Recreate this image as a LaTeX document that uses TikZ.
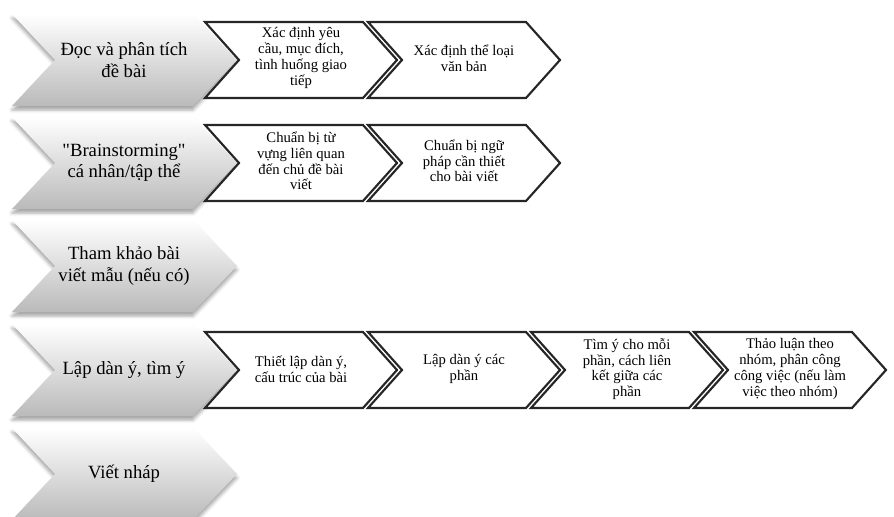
\documentclass[tikz,border=0pt]{standalone}
\usepackage{fontspec}
\setmainfont{Liberation Serif}[Ligatures=TeXOff]
\usetikzlibrary{shadows.blur}
\tikzset{
  bigchev/.style={top color=white, bottom color=black!27, draw=none,
    blur shadow={shadow xshift=0pt, shadow yshift=-3pt, shadow blur radius=2.5pt, shadow opacity=35}},
  smallchev/.style={draw=black!85, line width=1.6pt, fill=white, line join=miter},
  bigtext/.style={align=center, inner sep=0pt, font=\fontsize{14}{16}\selectfont},
  smalltext/.style={align=center, inner sep=0pt, font=\fontsize{11}{11.8}\selectfont},
}
\newcommand\bigchevron[1]{%
  \path[bigchev] (12,#1-46) -- (193,#1-46) -- (237,#1) -- (193,#1+46) -- (12,#1+46) -- (55,#1) -- cycle;}
\newcommand\smallchevron[2]{%
  \path[smallchev] (#1,#2-38) -- (#1+158,#2-38) -- (#1+192,#2) -- (#1+158,#2+38) -- (#1,#2+38) -- (#1+34,#2) -- cycle;}
\begin{document}
\begin{tikzpicture}[x=0.75pt, y=-0.75pt]
\useasboundingbox (0,0) rectangle (894,517);
% gray chevrons
\bigchevron{60}
\bigchevron{163}
\bigchevron{266}
\bigchevron{370}
\bigchevron{474}
\node[bigtext] (g1) at (124,60) {Đọc và phân tích\\đề bài};
\node[bigtext] (g2) at (124,163) {"Brainstorming"\\cá nhân/tập thể};
\node[bigtext] (g3) at (124,266) {Tham khảo bài\\viết mẫu (nếu có)};
\node[bigtext] (g4) at (124,370) {Lập dàn ý, tìm ý};
\node[bigtext] (g5) at (124,474) {Viết nháp};
% row 1
\smallchevron{205}{60}
\smallchevron{368}{60}
\node[smalltext] (a1) at (301,58) {Xác định yêu\\cầu, mục đích,\\tình huống giao\\tiếp};
\node[smalltext] (a2) at (464,58) {Xác định thể loại\\văn bản};
% row 2
\smallchevron{205}{163}
\smallchevron{368}{163}
\node[smalltext] (b1) at (301,161) {Chuẩn bị từ\\vựng liên quan\\đến chủ đề bài\\viết};
\node[smalltext] (b2) at (464,161) {Chuẩn bị ngữ\\pháp cần thiết\\cho bài viết};
% row 4
\smallchevron{205}{370}
\smallchevron{368}{370}
\smallchevron{531}{370}
\smallchevron{694}{370}
\node[smalltext] (d1) at (301,369) {Thiết lập dàn ý,\\cấu trúc của bài};
\node[smalltext] (d2) at (464,369) {Lập dàn ý các\\phần};
\node[smalltext] (d3) at (627,369) {Tìm ý cho mỗi\\phần, cách liên\\kết giữa các\\phần};
\node[smalltext] (d4) at (790,369) {Thảo luận theo\\nhóm, phân công\\công việc (nếu làm\\việc theo nhóm)};
\end{tikzpicture}
\end{document}
